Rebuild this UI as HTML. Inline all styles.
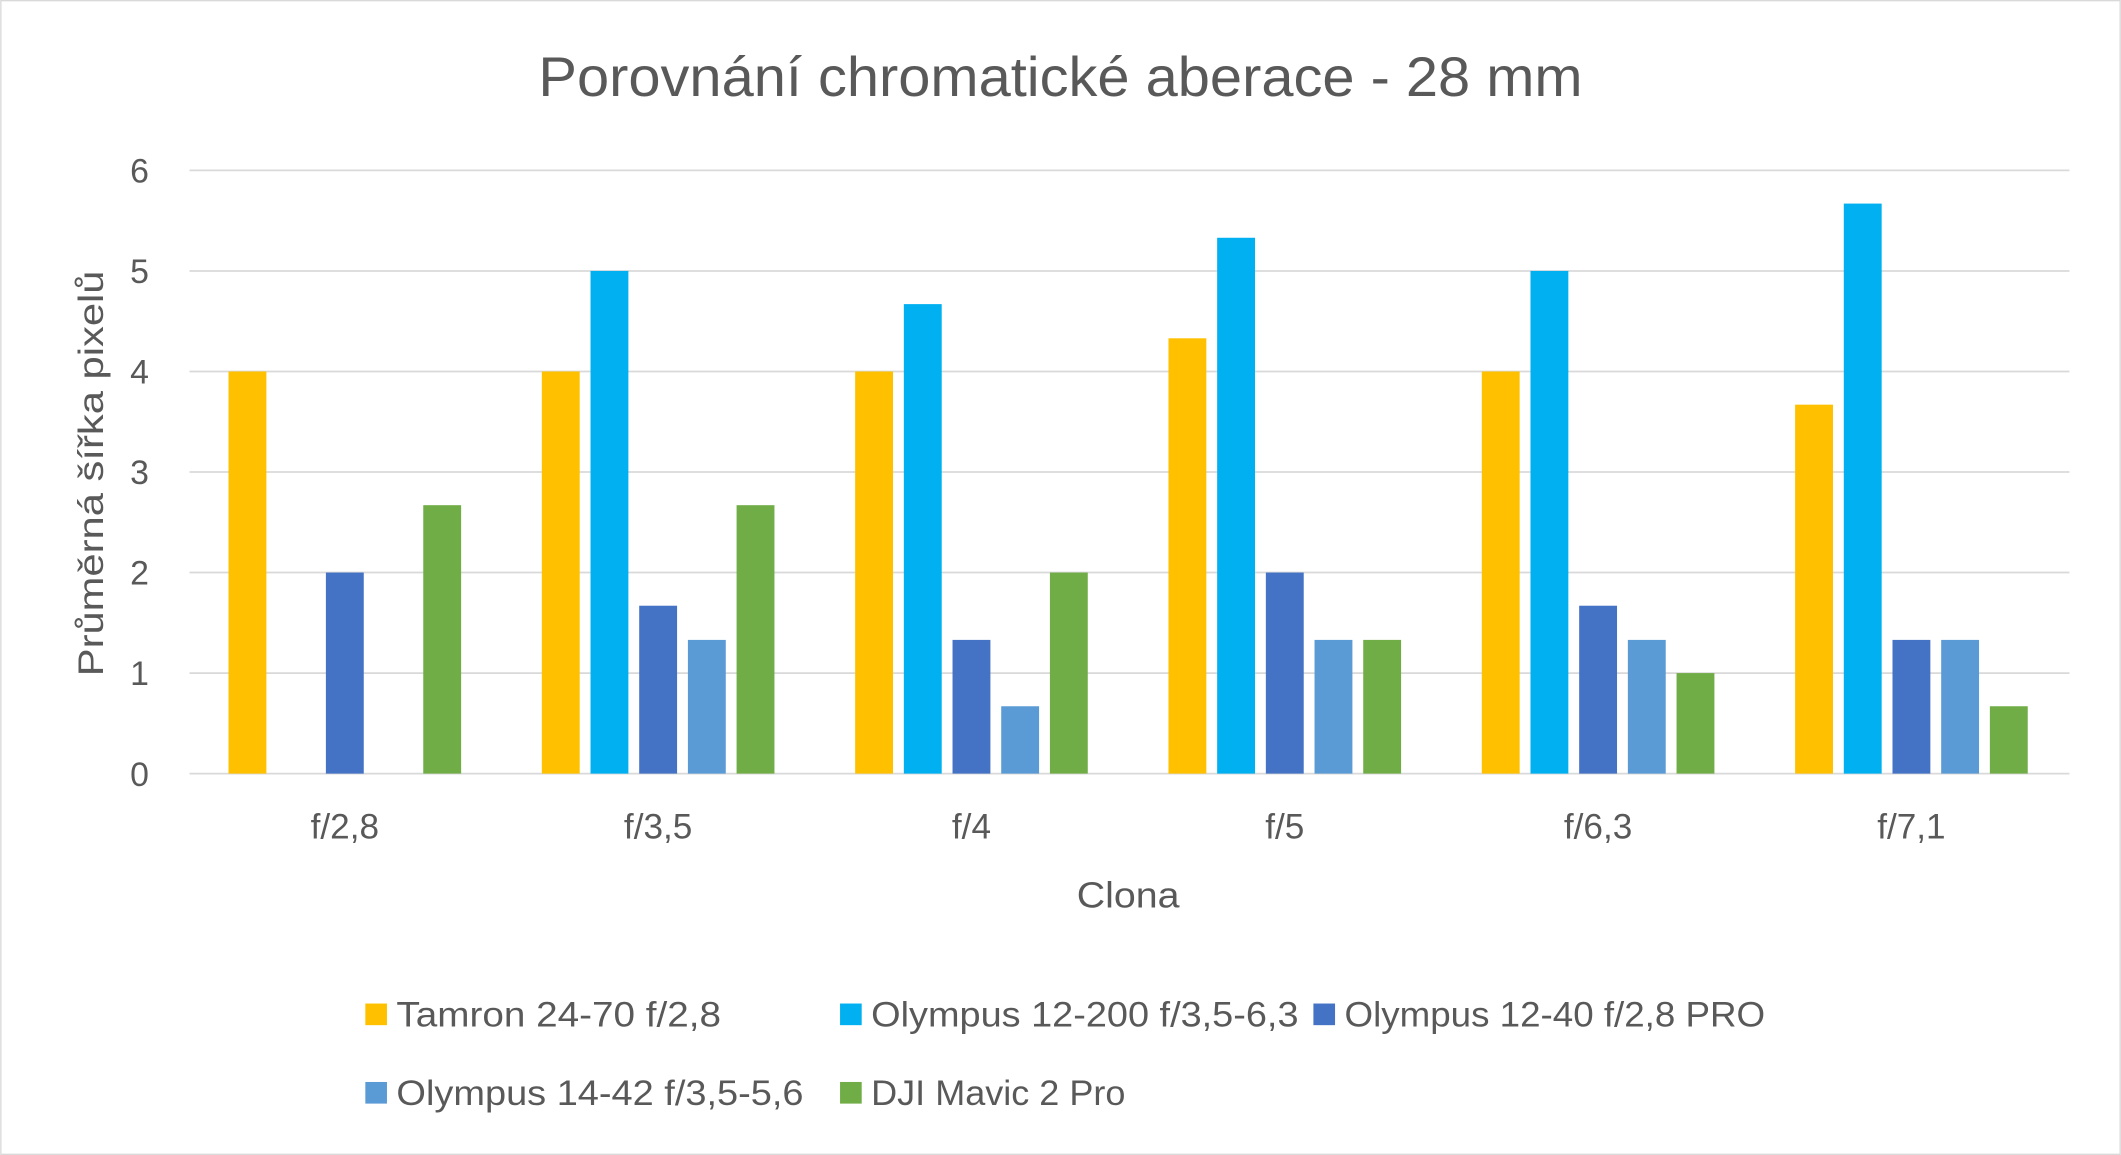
<!DOCTYPE html>
<html><head><meta charset="utf-8"><style>
html,body{margin:0;padding:0;background:#fff;}
svg{display:block;font-family:"Liberation Sans","DejaVu Sans",sans-serif;}
</style></head><body>
<svg id="chart" width="2121" height="1155" viewBox="0 0 1568 854" xmlns="http://www.w3.org/2000/svg">
<rect x="0.5" y="0.5" width="1567" height="853" fill="#fff" stroke="#d9d9d9"/>
<text x="398" y="71" font-size="41" fill="#595959" textLength="772" lengthAdjust="spacingAndGlyphs">Porovnání chromatické aberace - 28 mm</text>
<g id="grid"></g>
<g id="bars"></g>
<g id="labels"></g>
<text transform="translate(76,500) rotate(-90)" font-size="26" fill="#595959" textLength="300" lengthAdjust="spacingAndGlyphs">Průměrná šířka pixelů</text>
<text x="796" y="671" font-size="27" fill="#595959" textLength="76" lengthAdjust="spacingAndGlyphs">Clona</text>
<g id="legend"></g>
</svg>
<script>
const categories=["f/2,8","f/3,5","f/4","f/5","f/6,3","f/7,1"];
const seriesNames=["Tamron 24-70 f/2,8","Olympus 12-200 f/3,5-6,3","Olympus 12-40 f/2,8 PRO","Olympus 14-42 f/3,5-5,6","DJI Mavic 2 Pro"];
const tamron=[4,4,4,4.33,4,3.67];
const oly12200=[0,5,4.67,5.33,5,5.67];
const oly1240=[2,1.67,1.33,2,1.67,1.33];
const oly1442=[0,1.33,0.67,1.33,1.33,1.33];
const dji=[2.67,2.67,2,1.33,1,0.67];
const yTicks=[0,1,2,3,4,5,6];
const colors=["#FFC000","#00B0F0","#4472C4","#5B9BD5","#70AD47"];
const series=[tamron,oly12200,oly1240,oly1442,dji];
const NS="http://www.w3.org/2000/svg";
const x0=140,x1=1530,yb=572,yt=126,ymax=6;
const y=v=>yb-(v/ymax)*(yb-yt);
const band=(x1-x0)/categories.length;
const cx=i=>x0+band*(i+0.5)-1;
function mk(t,a,p){const e=document.createElementNS(NS,t);for(const k in a)e.setAttribute(k,a[k]);p.appendChild(e);return e;}
const grid=document.getElementById('grid'),bars=document.getElementById('bars'),labels=document.getElementById('labels'),legend=document.getElementById('legend');
yTicks.forEach(t=>{
 const l=mk('line',{x1:x0,x2:x1,y1:y(t),y2:y(t),stroke:'#d9d9d9','stroke-width':1.3},grid);
 
 
 const tx=mk('text',{x:110,y:y(t)+9,'text-anchor':'end','font-size':25,fill:'#595959'},labels);
 tx.textContent=t;
 
 
});
const bw=28,step=36;
series.forEach((s,si)=>{s.forEach((v,ci)=>{
 if(v<=0)return;
 const r=mk('rect',{x:cx(ci)+(si-2)*step-bw/2,y:y(v),width:bw,height:yb-y(v),fill:colors[si]},bars);
 
 
});});
categories.forEach((c,i)=>{
 const t=mk('text',{x:cx(i),y:620,'text-anchor':'middle','font-size':26,fill:'#595959'},labels);
 t.textContent=c;
 
 
});
const lp=[[270,750],[621,750],[971,750],[270,808],[621,808]];
const lw=[240,316,311,301,188];
seriesNames.forEach((n,i)=>{
 const g=mk('g',{},legend);
 
 
 mk('rect',{x:lp[i][0],y:lp[i][1]-8,width:16,height:16,fill:colors[i]},g);
 const t=mk('text',{x:lp[i][0]+23,y:lp[i][1]+9,'font-size':26,fill:'#595959',textLength:lw[i],lengthAdjust:'spacingAndGlyphs'},g);
 t.textContent=n;
});
</script>
</body></html>
